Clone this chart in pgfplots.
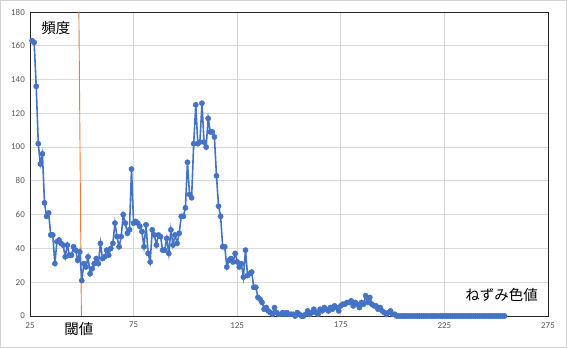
\documentclass[border=0pt]{standalone}
\usepackage{pgfplots}
\pgfplotsset{compat=1.18}
\usepackage{pgfplotstable}
\usepackage{fontspec}
\setmainfont{Carlito}
\newfontfamily\cjk{Noto Sans CJK JP}
\definecolor{xlblue}{HTML}{4472C4}
\definecolor{xlorange}{HTML}{ED7D31}
\definecolor{xlgrid}{HTML}{D9D9D9}
\definecolor{xltext}{HTML}{595959}
\pgfplotstableread{
x y
26 163
27 162
28 136
29 102
30 90
31 96
32 67
33 59
34 61
35 48
36 48
37 31
38 44
39 45
40 43
41 42
42 35
43 42
44 36
45 36
46 41
47 39
48 33
49 38
50 21
51 31
52 29
53 35
54 25
55 28
56 31
57 34
58 31
59 43
60 34
61 35
62 39
63 36
64 40
65 43
66 55
67 47
68 41
69 47
70 60
71 55
72 49
73 51
74 87
75 55
76 56
77 55
78 53
79 50
80 41
81 54
82 37
83 32
84 51
85 48
86 42
87 48
88 47
89 39
90 39
91 46
92 37
93 51
94 42
95 48
96 43
97 49
98 59
99 59
100 64
101 91
102 72
103 70
104 102
105 125
106 102
107 103
108 126
109 103
110 100
111 117
112 109
113 109
114 106
115 83
116 65
117 59
118 41
119 41
120 29
121 33
122 34
123 32
124 37
125 32
126 29
127 31
128 23
129 39
130 24
131 25
132 26
133 17
134 17
135 11
136 10
137 8
138 4
139 5
140 3
141 2
142 1
143 5
144 2
145 1
146 1
147 2
148 1
149 2
150 1
151 1
152 1
153 0
154 2
155 1
156 0
157 0
158 1
159 3
160 1
161 2
162 4
163 2
164 1
165 4
166 3
167 5
168 4
169 3
170 5
171 4
172 6
173 5
174 3
175 6
176 7
177 7
178 8
179 8
180 9
181 6
182 8
183 7
184 5
185 8
186 7
187 12
188 8
189 11
190 7
191 6
192 6
193 4
194 5
195 3
196 2
197 1
198 2
199 3
200 1
201 1
202 0
203 0
204 0
205 0
206 0
207 0
208 0
209 0
210 0
211 0
212 0
213 0
214 0
215 0
216 0
217 0
218 0
219 0
220 0
221 0
222 0
223 0
224 0
225 0
226 0
227 0
228 0
229 0
230 0
231 0
232 0
233 0
234 0
235 0
236 0
237 0
238 0
239 0
240 0
241 0
242 0
243 0
244 0
245 0
246 0
247 0
248 0
249 0
250 0
251 0
252 0
253 0
254 0
}\histdata
\begin{document}
\begin{tikzpicture}
\path (0,0) rectangle (567bp,348bp);
\draw[gray!35, line width=1bp] (0.5bp,0.5bp) rectangle (566.5bp,347.5bp);
\begin{axis}[
  at={(30bp,32bp)}, anchor=south west,
  scale only axis, width=518bp, height=304bp,
  xmin=25, xmax=275, ymin=0, ymax=180,
  xtick={25,75,...,275}, ytick={0,20,...,180},
  grid=major, major grid style={xlgrid, line width=0.9bp},
  major tick length=0pt,
  axis line style={black!85, line width=0.8bp},
  tick label style={font=\fontsize{9}{10}\selectfont, text=xltext},
  /pgf/number format/assume math mode=true,
  yticklabel style={inner sep=0pt, xshift=-5bp},
  xticklabel style={inner sep=0pt, yshift=-6bp},
  clip=false,
]
\addplot[xlorange, line width=0.9bp] coordinates {(48.6,180) (49.8,0)};
\addplot[xlblue, line width=1.6bp, mark=*, mark size=2.6bp, mark options={fill=xlblue, draw=xlblue, line width=0.5bp}] table[x=x,y=y] {\histdata};
\node[font=\cjk\fontsize{14.5}{16}\selectfont] at (axis cs:37.5,170.7) {頻度};
\node[font=\cjk\fontsize{14.5}{16}\selectfont] at (axis cs:252.6,12.3) {ねずみ色値};
\node[font=\cjk\fontsize{14.5}{16}\selectfont] at (axis cs:48.6,-7.8) {閾値};
\end{axis}
\end{tikzpicture}
\end{document}
